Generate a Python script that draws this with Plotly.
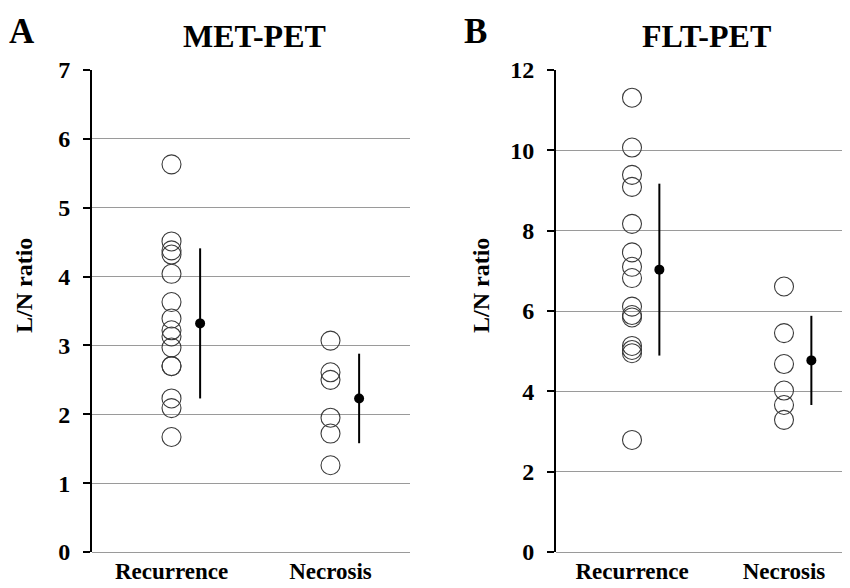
import plotly.graph_objects as go

# ---- data ----
groups = ["Recurrence", "Necrosis"]
group_pos = [1, 2]

met_recurrence = [5.63, 4.51, 4.38, 4.32, 4.04, 3.63, 3.39, 3.22, 3.13, 2.97, 2.70, 2.70, 2.23, 2.09, 1.67]
met_necrosis = [3.07, 2.61, 2.50, 1.95, 1.72, 1.26]
met_mean = [3.32, 2.23]
met_sd = [1.09, 0.65]

flt_recurrence = [11.31, 10.07, 9.39, 9.09, 8.17, 7.46, 7.10, 6.82, 6.11, 5.90, 5.84, 5.13, 5.03, 4.95, 2.79]
flt_necrosis = [6.61, 5.45, 4.68, 4.02, 3.66, 3.29]
flt_mean = [7.03, 4.77]
flt_sd = [2.14, 1.11]

met_ticks = [0, 1, 2, 3, 4, 5, 6, 7]
flt_ticks = [0, 2, 4, 6, 8, 10, 12]

mean_offset = 0.18
OFF = 8                      # page body margin of the browser
W, H = 850 - OFF, 588 - OFF  # figure size so the page does not overflow
FONT = "Liberation Serif"

fig = go.Figure()

circle = dict(symbol="circle-open", size=19, color="#3a3a3a", line=dict(width=1.1, color="#3a3a3a"))


def add_panel(rec, nec, mean, sd, xa, ya):
    fig.add_trace(go.Scatter(x=[group_pos[0]] * len(rec), y=rec, mode="markers",
                             marker=circle, xaxis=xa, yaxis=ya, showlegend=False))
    fig.add_trace(go.Scatter(x=[group_pos[1]] * len(nec), y=nec, mode="markers",
                             marker=circle, xaxis=xa, yaxis=ya, showlegend=False))
    fig.add_trace(go.Scatter(x=[p + mean_offset for p in group_pos], y=mean, mode="markers",
                             marker=dict(symbol="circle", size=10, color="black"),
                             error_y=dict(type="data", array=sd, visible=True, color="black",
                                          thickness=2, width=0),
                             xaxis=xa, yaxis=ya, showlegend=False))


add_panel(met_recurrence, met_necrosis, met_mean, met_sd, "x", "y")
add_panel(flt_recurrence, flt_necrosis, flt_mean, flt_sd, "x2", "y2")


def px(x):  # screen x -> paper fraction
    return (x - OFF) / W


def py(y):  # screen y -> paper fraction
    return 1 - (y - OFF) / H


ydom = [py(552), py(70)]
tickfont = dict(family=FONT, size=24, color="black", weight="bold")
xtickfont = dict(family=FONT, size=23, color="black", weight="bold")

xcommon = dict(tickmode="array", tickvals=group_pos, ticktext=groups, showgrid=False,
               zeroline=False, showline=False, ticks="", tickfont=xtickfont,
               ticklabelstandoff=3, fixedrange=True, automargin=False)
ycommon = dict(tickmode="array", showgrid=True, gridcolor="#9a9a9a", gridwidth=1,
               zeroline=True, zerolinecolor="#9a9a9a", zerolinewidth=1,
               showline=True, linecolor="black", linewidth=2,
               ticks="outside", ticklen=7, tickwidth=2, tickcolor="black",
               tickfont=tickfont, ticklabelstandoff=8, domain=ydom, automargin=False)

fig.update_layout(
    width=W, height=H,
    margin=dict(l=0, r=0, t=0, b=0, autoexpand=False),
    paper_bgcolor="white", plot_bgcolor="white",
    xaxis=dict(domain=[px(92), px(410)], range=[0.5, 2.5], anchor="y", **xcommon),
    xaxis2=dict(domain=[px(556), 1.0], range=[0.5, 0.5 + (850 - 556) / 152], anchor="y2", **xcommon),
    yaxis=dict(range=[0, 7], tickvals=met_ticks, anchor="x", **ycommon),
    yaxis2=dict(range=[0, 12], tickvals=flt_ticks, anchor="x2", **ycommon),
)

ann = []
def txt(x, y, s, size, angle=0):
    ann.append(dict(x=px(x), y=py(y), xref="paper", yref="paper", text=s, showarrow=False,
                    textangle=angle, xanchor="center", yanchor="middle",
                    font=dict(family=FONT, size=size, color="black", weight="bold")))

txt(22, 32, "A", 35)
txt(476, 32, "B", 35)
txt(255, 36, "MET-PET", 32)
txt(706, 36, "FLT-PET", 32)
txt(24, 286, "L/N ratio", 24, -90)
txt(481, 286, "L/N ratio", 24, -90)
fig.update_layout(annotations=ann)

fig.write_html("out.html")
